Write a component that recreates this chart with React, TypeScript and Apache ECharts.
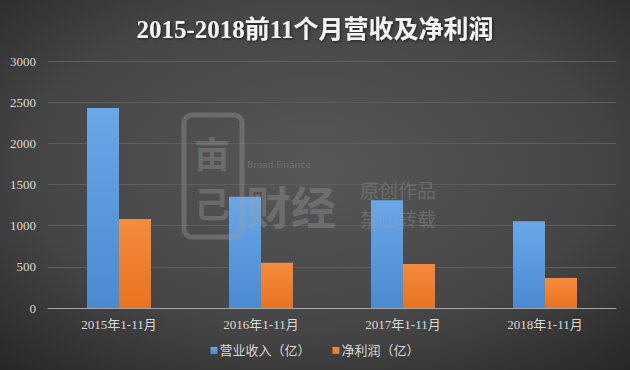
import React, { useEffect, useRef } from "react";
import * as echarts from "echarts";

const title = "2015-2018前11个月营收及净利润";
const categories = ["2015年1-11月", "2016年1-11月", "2017年1-11月", "2018年1-11月"];
const revenue = [2430, 1350, 1310, 1055];
const profit = [1080, 550, 535, 365];
const seriesNames = ["营业收入（亿）", "净利润（亿）"];
const yTicks = { min: 0, max: 3000, interval: 500 };

const serif = "'Liberation Serif', 'DejaVu Serif', 'Noto Sans CJK SC', serif";
const wm = "rgba(160,160,160,0.35)";

export default function App() {
  const ref = useRef<HTMLDivElement>(null);
  useEffect(() => {
    if (!ref.current) return;
    const chart = echarts.init(ref.current, null, { renderer: "svg" });
    chart.setOption({
      animation: false,
      backgroundColor: {
        type: "radial",
        x: 0.5,
        y: 0.45,
        r: 0.75,
        colorStops: [
          { offset: 0, color: "#575757" },
          { offset: 0.6, color: "#454545" },
          { offset: 1, color: "#262626" },
        ],
      },
      title: {
        text: title,
        left: "center",
        top: 12,
        textStyle: {
          color: "#f2f2f2",
          fontSize: 25,
          fontWeight: "bold",
          fontFamily: serif,
          textShadowColor: "rgba(0,0,0,0.6)",
          textShadowBlur: 3,
          textShadowOffsetX: 1,
          textShadowOffsetY: 1,
        },
      },
      grid: { left: 48, right: 14, top: 61, bottom: 62, containLabel: false },
      legend: {
        data: seriesNames,
        bottom: 8,
        left: "center",
        itemWidth: 7,
        itemHeight: 7,
        itemGap: 22,
        icon: "rect",
        textStyle: { color: "#d9d9d9", fontSize: 13, fontFamily: serif, padding: [0, 0, 0, -3] },
      },
      xAxis: {
        type: "category",
        data: categories,
        axisLine: { lineStyle: { color: "#a6a6a6", width: 1 } },
        axisTick: { show: false },
        axisLabel: { color: "#d9d9d9", fontSize: 13, fontFamily: serif, margin: 10 },
      },
      yAxis: {
        type: "value",
        min: yTicks.min,
        max: yTicks.max,
        interval: yTicks.interval,
        axisLine: { show: false },
        axisTick: { show: false },
        axisLabel: {
          color: "#d9d9d9",
          fontSize: 13,
          fontFamily: serif,
          margin: 12,
          formatter: (v: number) => String(v),
        },
        splitLine: { lineStyle: { color: "#5e5e5e", width: 1 } },
      },
      series: [
        {
          name: seriesNames[0],
          type: "bar",
          data: revenue,
          barWidth: 32,
          barGap: "0%",
          itemStyle: {
            color: {
              type: "linear",
              x: 0, y: 0, x2: 0, y2: 1,
              colorStops: [
                { offset: 0, color: "#6aa7e8" },
                { offset: 1, color: "#4a8ad2" },
              ],
            },
          },
        },
        {
          name: seriesNames[1],
          type: "bar",
          data: profit,
          barWidth: 32,
          barGap: "0%",
          itemStyle: {
            color: {
              type: "linear",
              x: 0, y: 0, x2: 0, y2: 1,
              colorStops: [
                { offset: 0, color: "#f58b3e" },
                { offset: 1, color: "#e8731f" },
              ],
            },
          },
        },
      ],
      graphic: [
        {
          type: "rect",
          z: 100,
          shape: { x: 184, y: 115, width: 58, height: 122, r: 8 },
          style: { fill: "none", stroke: wm, lineWidth: 5 },
          silent: true,
        },
        {
          type: "text",
          z: 100,
          left: 194,
          top: 134,
          style: { text: "亩", fill: wm, font: "bold 36px 'Noto Sans CJK SC'" },
          silent: true,
        },
        {
          type: "text",
          z: 100,
          left: 194,
          top: 184,
          style: { text: "己", fill: wm, font: "bold 36px 'Noto Sans CJK SC'" },
          silent: true,
        },
        {
          type: "text",
          z: 100,
          left: 247,
          top: 160,
          style: { text: "Bread Finance", fill: wm, font: "9px 'DejaVu Sans'" },
          silent: true,
        },
        {
          type: "text",
          z: 100,
          left: 246,
          top: 183,
          style: { text: "财经", fill: wm, font: "bold 45px 'Noto Sans CJK SC'" },
          silent: true,
        },
        {
          type: "text",
          z: 100,
          left: 360,
          top: 180,
          style: { text: "原创作品", fill: wm, font: "19px 'Noto Sans CJK SC'" },
          silent: true,
        },
        {
          type: "text",
          z: 100,
          left: 360,
          top: 209,
          style: { text: "禁止转载", fill: wm, font: "19px 'Noto Sans CJK SC'" },
          silent: true,
        },
      ],
    });
    return () => chart.dispose();
  }, []);
  return <div ref={ref} style={{ width: 630, height: 370, position: "absolute", left: 0, top: 0 }} />;
}
